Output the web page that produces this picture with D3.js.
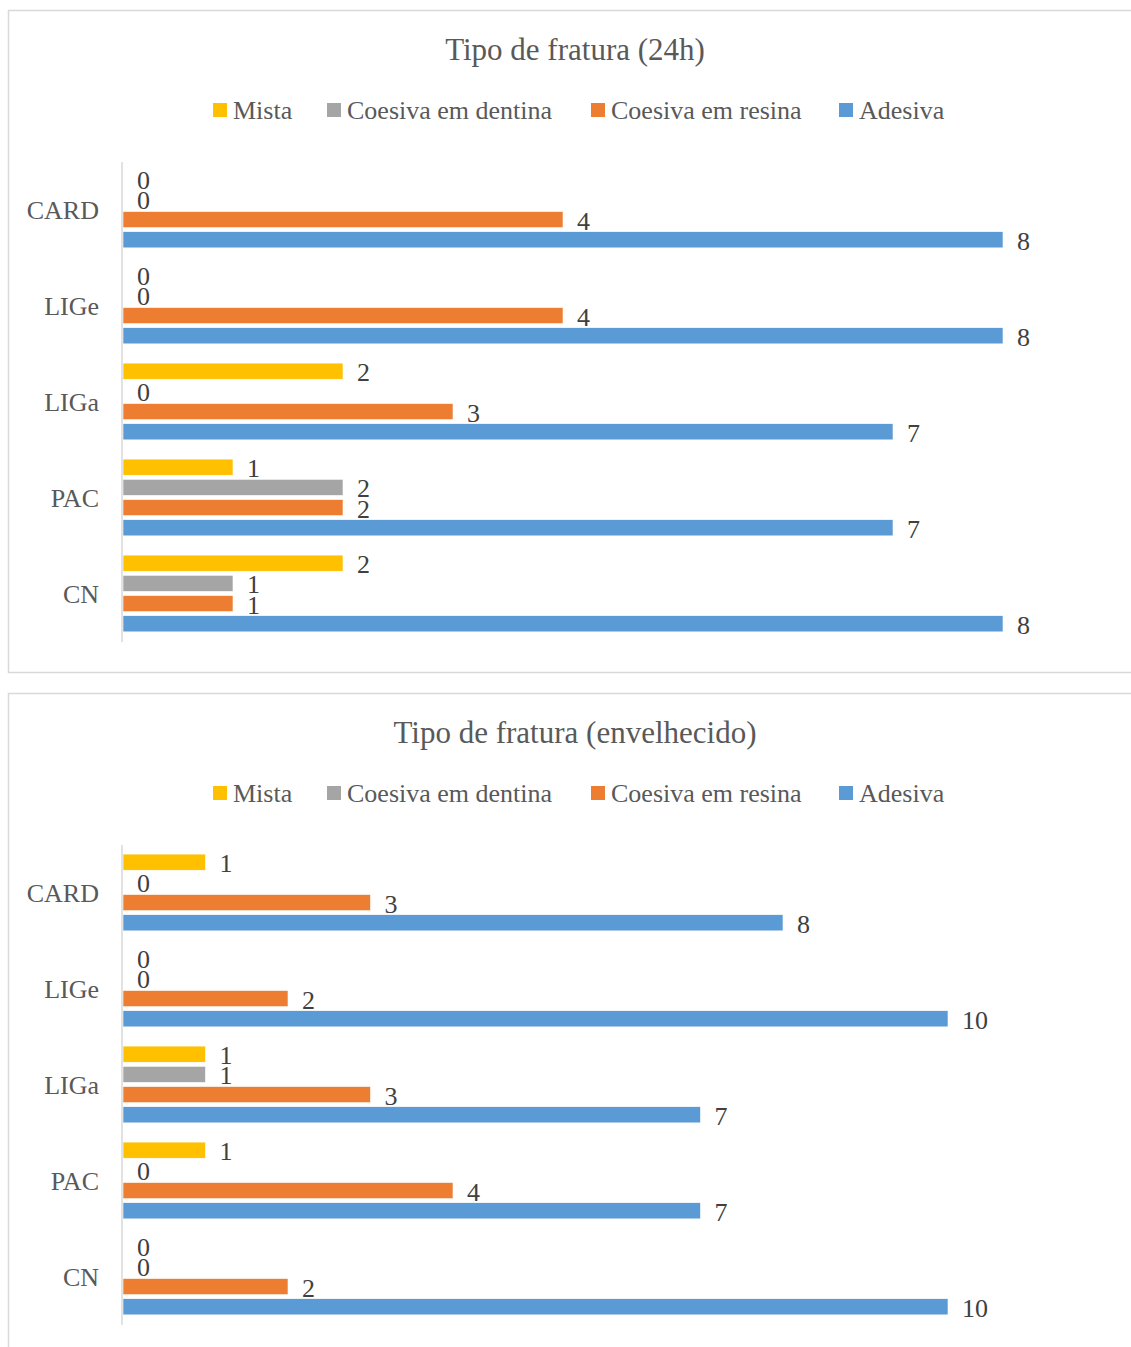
<!DOCTYPE html>
<html>
<head>
<meta charset="utf-8">
<script src="https://cdn.jsdelivr.net/npm/d3@7"></script>
<style>
  body { margin: 0; background: #fff; }
  text { font-family: "Liberation Serif", "Times New Roman", serif; }
</style>
</head>
<body>
<script>
const categories = ['CARD', 'LIGe', 'LIGa', 'PAC', 'CN']
const seriesNames = ['Mista', 'Coesiva em dentina', 'Coesiva em resina', 'Adesiva']
const seriesColors = ['#FFC000', '#A5A5A5', '#ED7D31', '#5B9BD5']

// 24h
const mista24 = [0, 0, 2, 1, 2]
const dentina24 = [0, 0, 0, 2, 1]
const resina24 = [4, 4, 3, 2, 1]
const adesiva24 = [8, 8, 7, 7, 8]

// envelhecido
const mistaEnv = [1, 0, 1, 1, 0]
const dentinaEnv = [0, 0, 1, 0, 0]
const resinaEnv = [3, 2, 3, 4, 2]
const adesivaEnv = [8, 10, 7, 7, 10]

const svg = d3.select('body').append('svg')
  .attr('width', 1131)
  .attr('height', 1347)

function drawChart(top, title, values, xMax) {
  const g = svg.append('g').attr('transform', `translate(0, ${top})`)

  g.append('rect')
    .attr('x', 8.5).attr('y', 0.5)
    .attr('width', 1160).attr('height', 662)
    .attr('fill', '#fff')
    .attr('stroke', '#d9d9d9')
    .attr('stroke-width', 1.5)

  g.append('text')
    .attr('x', 575).attr('y', 50)
    .attr('text-anchor', 'middle')
    .attr('font-size', 31)
    .attr('fill', '#595959')
    .text(title)

  // legend
  const legendX = [213, 327, 591, 839]
  const legend = g.append('g').selectAll('g')
    .data(seriesNames)
    .enter()
    .append('g')
    .attr('transform', (d, i) => `translate(${legendX[i]}, 93)`)
  legend.append('rect')
    .attr('width', 14).attr('height', 14)
    .attr('fill', (d, i) => seriesColors[i])
  legend.append('text')
    .attr('x', 20).attr('y', 16)
    .attr('font-size', 26)
    .attr('fill', '#595959')
    .text(d => d)

  const xScale = d3.scaleLinear()
    .domain([0, xMax])
    .range([123, 1113])

  const yScale = d3.scaleBand()
    .domain(categories)
    .range([152, 632])
    .paddingInner(0.2)
    .paddingOuter(0.1)

  const ySub = d3.scaleBand()
    .domain(d3.range(seriesNames.length))
    .range([0, yScale.bandwidth()])
    .paddingInner(0.2)

  const rows = []
  values.forEach((arr, s) => {
    arr.forEach((v, c) => rows.push({cat: categories[c], s: s, v: v}))
  })

  const barY = d => yScale(d.cat) + ySub(d.s) - ySub.step() * 0.1 + 1.5

  g.append('g').selectAll('rect')
    .data(rows)
    .enter()
    .append('rect')
    .attr('x', xScale(0))
    .attr('y', barY)
    .attr('width', d => xScale(d.v) - xScale(0))
    .attr('height', ySub.bandwidth())
    .attr('fill', d => seriesColors[d.s])
    .attr('stroke', '#fff')
    .attr('stroke-width', 0.6)

  g.append('g').selectAll('text')
    .data(rows)
    .enter()
    .append('text')
    .attr('x', d => xScale(d.v) + 14)
    .attr('y', d => barY(d) + ySub.bandwidth() / 2 + 10)
    .attr('font-size', 26)
    .attr('fill', '#404040')
    .text(d => d.v)

  // category axis
  g.append('line')
    .attr('x1', 122).attr('x2', 122)
    .attr('y1', 152).attr('y2', 632)
    .attr('stroke', '#d9d9d9')
    .attr('stroke-width', 1.5)

  g.append('g').selectAll('text')
    .data(categories)
    .enter()
    .append('text')
    .attr('x', 99)
    .attr('y', d => yScale(d) + yScale.bandwidth() / 2 + 9)
    .attr('text-anchor', 'end')
    .attr('font-size', 26)
    .attr('fill', '#595959')
    .text(d => d)
}

drawChart(10, 'Tipo de fratura (24h)', [mista24, dentina24, resina24, adesiva24], 9)
drawChart(693, 'Tipo de fratura (envelhecido)', [mistaEnv, dentinaEnv, resinaEnv, adesivaEnv], 12)
</script>
</body>
</html>
